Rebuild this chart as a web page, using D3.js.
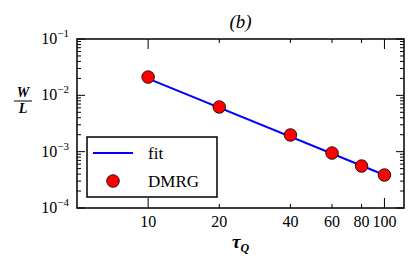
<!DOCTYPE html>
<html>
<head>
<meta charset="utf-8">
<script src="https://cdn.jsdelivr.net/npm/d3@7"></script>
<style>
  body { margin: 0; background: #fff; }
</style>
</head>
<body>
<svg class="chart"></svg>
<script>
var tau = [10, 20, 40, 60, 80, 100];
var dmrg = [0.0211, 0.00621, 0.00198, 0.000946, 0.000556, 0.000385];
var fitTau = [10, 100];
var fitW = [0.0198, 0.000385];
var xTicks = [10, 20, 40, 60, 80, 100];
var yTicks = [1e-4, 1e-3, 1e-2, 1e-1];

var W = 415, H = 266;
var margin = {top: 39, right: 11, bottom: 58, left: 77},
    width = W - margin.left - margin.right,
    height = H - margin.top - margin.bottom;

var serif = "'Liberation Serif', 'DejaVu Serif', serif";

var chart = d3.select(".chart")
    .attr("width", W)
    .attr("height", H)
    .style("font-family", serif);

var x = d3.scaleLog().domain([5, 121]).range([0, width]);
var y = d3.scaleLog().domain([1e-4, 1e-1]).range([height, 0]);

var g = chart.append("g")
    .attr("transform", "translate(" + margin.left + "," + margin.top + ")");

// minor y ticks
var yMinor = [];
yTicks.slice(0, 3).forEach(function(d) {
  for (var k = 2; k < 10; k++) yMinor.push(d * k);
});

function tickLines(sel, vals, len, horiz, side) {
  sel.selectAll(null).data(vals).enter().append("line")
    .attr("x1", function(d) { return horiz ? x(d) : (side ? width : 0); })
    .attr("x2", function(d) { return horiz ? x(d) : (side ? width - len : len); })
    .attr("y1", function(d) { return horiz ? (side ? 0 : height) : y(d); })
    .attr("y2", function(d) { return horiz ? (side ? len : height - len) : y(d); })
    .attr("stroke", "#000")
    .attr("stroke-width", 1);
}

var ticks = g.append("g");
tickLines(ticks, [10, 100], 10, true, false);
tickLines(ticks, [10, 100], 10, true, true);
tickLines(ticks, [20, 40, 60, 80], 4, true, false);
tickLines(ticks, [20, 40, 60, 80], 4, true, true);
tickLines(ticks, yTicks, 8, false, false);
tickLines(ticks, yTicks, 8, false, true);
tickLines(ticks, yMinor, 4, false, false);
tickLines(ticks, yMinor, 4, false, true);

// x tick labels
g.append("g").selectAll("text").data(xTicks).enter().append("text")
    .attr("x", function(d) { return x(d); })
    .attr("y", height + 19)
    .attr("text-anchor", "middle")
    .style("font-size", "16px")
    .text(function(d) { return d; });

// y tick labels
var yl = g.append("g").selectAll("text").data(yTicks).enter().append("text")
    .attr("x", -8)
    .attr("y", function(d) { return y(d) + 5; })
    .attr("text-anchor", "end")
    .style("font-size", "16px");
yl.append("tspan").text("10");
yl.append("tspan")
    .attr("dy", -7)
    .style("font-size", "11px")
    .text(function(d) { return "\u2212" + Math.round(-Math.log10(d)); });

// fit line
g.append("path")
    .datum(fitTau.map(function(d, i) { return [d, fitW[i]]; }))
    .attr("fill", "none")
    .attr("stroke", "#0000ff")
    .attr("stroke-width", 2)
    .attr("d", d3.line()
      .x(function(d) { return x(d[0]); })
      .y(function(d) { return y(d[1]); }));

// DMRG points
g.selectAll(".pt")
    .data(tau)
  .enter().append("circle")
    .attr("class", "pt")
    .attr("cx", function(d) { return x(d); })
    .attr("cy", function(d, i) { return y(dmrg[i]); })
    .attr("r", 6.3)
    .attr("fill", "#ff0000")
    .attr("stroke", "#000")
    .attr("stroke-width", 0.8);

// frame
g.append("rect")
    .attr("width", width)
    .attr("height", height)
    .attr("fill", "none")
    .attr("stroke", "#000")
    .attr("stroke-width", 1.5);

// legend
var leg = chart.append("g").attr("transform", "translate(87,137)");
leg.append("rect")
    .attr("width", 130)
    .attr("height", 60)
    .attr("fill", "#fff")
    .attr("stroke", "#000")
    .attr("stroke-width", 1.5);
leg.append("line")
    .attr("x1", 6).attr("x2", 46)
    .attr("y1", 16).attr("y2", 16)
    .attr("stroke", "#0000ff")
    .attr("stroke-width", 2);
leg.append("text")
    .attr("x", 61).attr("y", 22)
    .style("font-size", "17px")
    .text("fit");
leg.append("circle")
    .attr("cx", 26).attr("cy", 44)
    .attr("r", 6.3)
    .attr("fill", "#ff0000")
    .attr("stroke", "#000")
    .attr("stroke-width", 0.8);
leg.append("text")
    .attr("x", 61).attr("y", 50)
    .style("font-size", "17px")
    .text("DMRG");

// title
chart.append("text")
    .attr("x", margin.left + width / 2)
    .attr("y", 28)
    .attr("text-anchor", "middle")
    .style("font-size", "19px")
    .style("font-style", "italic")
    .text("(b)");

// x label
var xl = chart.append("text")
    .attr("x", margin.left + width / 2)
    .attr("y", 248)
    .attr("text-anchor", "middle")
    .style("font-size", "19px")
    .style("font-style", "italic")
    .style("font-weight", "bold");
xl.append("tspan").text("\u03c4");
xl.append("tspan").attr("dy", 4).style("font-size", "12px").text("Q");

// y label as fraction
var yg = chart.append("g").attr("transform", "translate(23,101)");
yg.append("text")
    .attr("y", -4)
    .attr("text-anchor", "middle")
    .style("font-size", "14px")
    .style("font-style", "italic")
    .style("font-weight", "bold")
    .text("W");
yg.append("line")
    .attr("x1", -9).attr("x2", 9)
    .attr("stroke", "#000")
    .attr("stroke-width", 1);
yg.append("text")
    .attr("y", 12)
    .attr("text-anchor", "middle")
    .style("font-size", "14px")
    .style("font-style", "italic")
    .style("font-weight", "bold")
    .text("L");
</script>
</body>
</html>
